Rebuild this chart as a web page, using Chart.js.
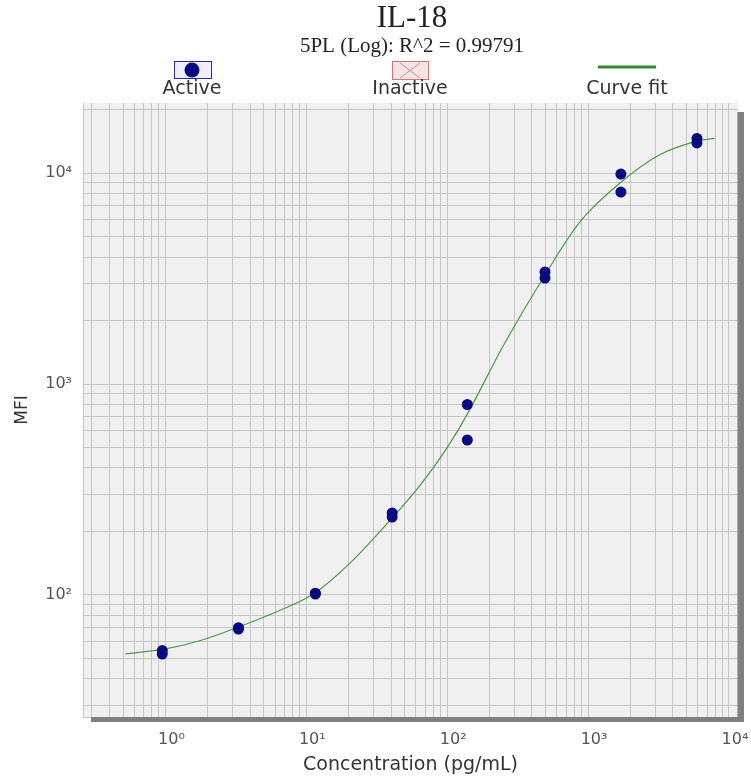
<!DOCTYPE html>
<html>
<head>
<meta charset="utf-8">
<script src="https://cdn.jsdelivr.net/npm/chart.js@4.4.0/dist/chart.umd.min.js"></script>
<style>
  body { margin: 0; background: #fff; }
  #wrap { position: relative; width: 751px; height: 777px; }
</style>
</head>
<body>
<div id="wrap"><canvas id="chart"></canvas></div>
<script>
const chartTitle = "IL-18";
const chartSubtitle = "5PL (Log): R^2 = 0.99791";
const legendLabels = ["Active", "Inactive", "Curve fit"];

// standards, two replicates (pg/mL -> MFI)
const conc = [0.95, 3.3, 11.6, 40.7, 139, 495, 1710, 5930];
const mfiRep1 = [54.5, 70, 102, 245, 800, 3400, 9900, 14600];
const mfiRep2 = [52.5, 69, 101, 234, 543, 3180, 8130, 13900];

// fitted curve
const fitConc = [0.52, 1, 1.8, 3.3, 6.1, 11.2, 20.5, 40.7, 64, 100, 139, 257, 495, 900, 1710, 3200, 5930, 7950];
const fitMfi = [52.5, 55.5, 61, 70.5, 83, 101, 142, 232, 330, 500, 720, 1570, 3290, 6000, 9060, 12200, 14200, 14600];

const xTickValues = [1, 10, 100, 1000, 10000];
const xTickLabels = ["10\u2070", "10\u00b9", "10\u00b2", "10\u00b3", "10\u2074"];
const yTickValues = [100, 1000, 10000];
const yTickLabels = ["10\u00b2", "10\u00b3", "10\u2074"];
const gridSteps = [1, 2, 3, 4, 5, 6, 7, 8, 9];

const xMin = 0.26, xMax = 11600;
const yMin = 26.4, yMax = 21500;

const sans = '"DejaVu Sans", Verdana, sans-serif';
const serif = '"Liberation Serif", "Times New Roman", serif';

function logGrid(scale, lo, hi) {
  let ticks = [];
  for (let e = -2; e <= 5; e++) {
    for (let k of gridSteps) {
      let v = k * Math.pow(10, e);
      if (v >= lo && v <= hi) ticks.push({ value: v });
    }
  }
  scale.ticks = ticks;
}

let activePoints = [];
for (let i = 0; i < conc.length; i++) {
  activePoints.push({ x: conc[i], y: mfiRep1[i] });
  activePoints.push({ x: conc[i], y: mfiRep2[i] });
}
let fitPoints = fitConc.map((c, i) => ({ x: c, y: fitMfi[i] }));

const plotBg = {
  id: 'plotBg',
  beforeDraw(chart) {
    const { ctx, chartArea: a } = chart;
    ctx.save();
    ctx.fillStyle = '#f0f0f0';
    ctx.fillRect(a.left, a.top, a.right - a.left, a.bottom - a.top);
    ctx.restore();
  },
  afterDatasetsDraw(chart) {
    const { ctx, chartArea: a } = chart;
    ctx.save();
    ctx.fillStyle = '#808080';
    ctx.fillRect(a.right, a.top + 9, 6, a.bottom - a.top - 4);
    ctx.fillRect(a.left + 8, a.bottom, a.right - a.left - 2, 5);
    ctx.fillStyle = '#b0b0b0';
    ctx.fillRect(a.right - 1, a.top + 9, 1, a.bottom - a.top - 9);
    ctx.restore();
  }
};

const header = {
  id: 'header',
  afterDraw(chart) {
    const ctx = chart.ctx;
    const cx = 412;
    ctx.save();
    ctx.fillStyle = '#222';
    ctx.textAlign = 'center';
    ctx.textBaseline = 'middle';
    ctx.font = '31px ' + serif;
    ctx.fillText(chartTitle, cx, 19);
    ctx.font = '21px ' + serif;
    ctx.fillText(chartSubtitle, cx, 46);

    const xs = [192, 410, 627];
    const iconY = 69;
    // Active
    ctx.fillStyle = '#eef0ff';
    ctx.fillRect(174, 61, 37, 17);
    ctx.strokeStyle = '#2a2a9a';
    ctx.lineWidth = 1;
    ctx.strokeRect(174.5, 61.5, 37, 17);
    ctx.fillStyle = '#0a0a80';
    ctx.beginPath();
    ctx.arc(xs[0], iconY + 1, 7.5, 0, Math.PI * 2);
    ctx.fill();
    // Inactive
    ctx.fillStyle = '#f6e4e4';
    ctx.fillRect(392, 61, 36, 18);
    ctx.strokeStyle = '#c87878';
    ctx.strokeRect(392.5, 61.5, 36, 18);
    ctx.strokeStyle = '#c89090';
    ctx.beginPath();
    ctx.moveTo(400, 63); ctx.lineTo(420, 78);
    ctx.moveTo(420, 63); ctx.lineTo(400, 78);
    ctx.stroke();
    // Curve fit
    ctx.strokeStyle = '#2e8b2e';
    ctx.lineWidth = 3;
    ctx.beginPath();
    ctx.moveTo(598, 67); ctx.lineTo(656, 67);
    ctx.stroke();

    ctx.fillStyle = '#333';
    ctx.font = '19px ' + sans;
    for (let i = 0; i < legendLabels.length; i++) {
      ctx.fillText(legendLabels[i], xs[i], 89);
    }
    ctx.restore();
  }
};

new Chart(document.querySelector('#chart'), {
  type: 'scatter',
  data: {
    datasets: [
      {
        label: legendLabels[0],
        data: activePoints,
        backgroundColor: '#0a0a80',
        borderColor: '#0a0a80',
        pointRadius: 5.5,
        pointBorderWidth: 0,
      },
      {
        label: legendLabels[1],
        data: [],
        backgroundColor: '#f6e4e4',
        borderColor: '#c87878',
      },
      {
        label: legendLabels[2],
        data: fitPoints,
        showLine: true,
        borderColor: '#4a9a4a',
        borderWidth: 1.2,
        pointRadius: 0,
        tension: 0.35,
      },
    ]
  },
  options: {
    responsive: true,
    maintainAspectRatio: false,
    animation: false,
    layout: { padding: { top: 103, right: 13, bottom: 0, left: 0 } },
    plugins: {
      legend: { display: false },
      tooltip: { enabled: false },
    },
    scales: {
      x: {
        type: 'logarithmic',
        min: xMin,
        max: xMax,
        afterBuildTicks: (s) => logGrid(s, xMin, xMax),
        afterFit: (s) => { s.height = 60; s.paddingLeft = 0; s.paddingRight = 0; },
        grid: { color: '#c6c6c6', drawTicks: false },
        border: { color: '#c6c6c6' },
        ticks: {
          autoSkip: false,
          maxRotation: 0,
          padding: 13,
          labelOffset: 6,
          color: '#555',
          font: { family: sans, size: 16 },
          callback: (v) => {
            let i = xTickValues.indexOf(v);
            return i >= 0 ? xTickLabels[i] : '';
          }
        },
        title: {
          display: true,
          text: 'Concentration (pg/mL)',
          color: '#333',
          padding: { top: 0, bottom: 1 },
          font: { family: sans, size: 19 }
        }
      },
      y: {
        type: 'logarithmic',
        min: yMin,
        max: yMax,
        afterBuildTicks: (s) => logGrid(s, yMin, yMax),
        afterFit: (s) => { s.width = 83; s.paddingTop = 0; s.paddingBottom = 0; },
        grid: { color: '#c6c6c6', drawTicks: false },
        border: { color: '#c6c6c6' },
        ticks: {
          autoSkip: false,
          padding: 11,
          color: '#555',
          font: { family: sans, size: 16 },
          callback: (v) => {
            let i = yTickValues.indexOf(v);
            return i >= 0 ? yTickLabels[i] : '';
          }
        },
        title: {
          display: true,
          text: 'MFI',
          color: '#333',
          padding: { top: 12, bottom: 0 },
          font: { family: sans, size: 17 }
        }
      }
    }
  },
  plugins: [plotBg, header]
});
</script>
</body>
</html>
